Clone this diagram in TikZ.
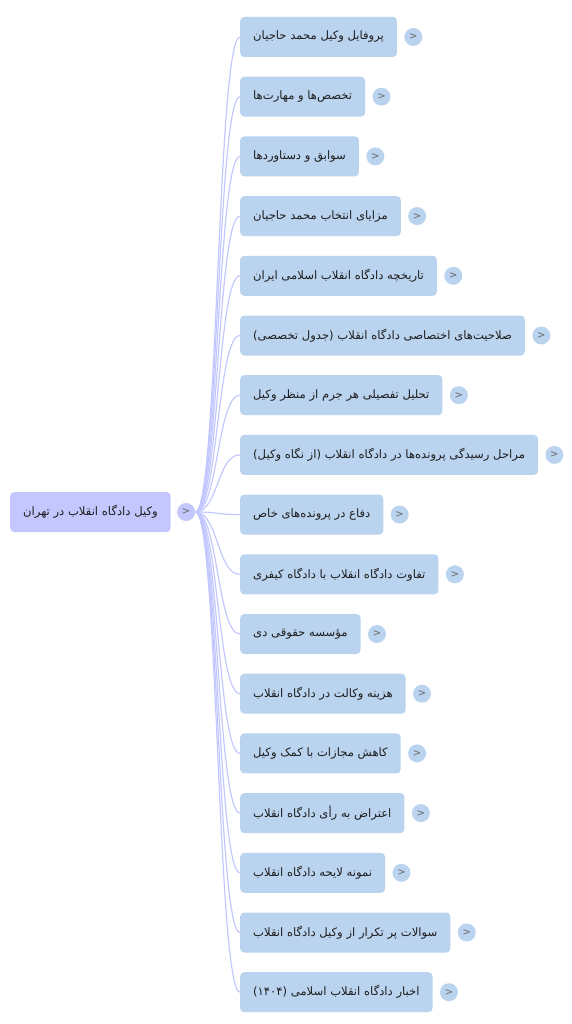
\documentclass[tikz,border=0pt]{standalone}
\usepackage{fontspec}
\usepackage{xcolor}
\usepackage{tikz}
\usetikzlibrary{positioning}
\newfontfamily\fafont[Script=Arabic]{DejaVu Sans}
\newfontfamily\togfont{DejaVu Sans}
\TeXXeTstate=1
\newcommand{\fa}[1]{\beginR #1\endR}
\definecolor{rootfill}{HTML}{C3C7FD}
\definecolor{itemfill}{HTML}{BAD3EF}
\definecolor{linkcol}{HTML}{C3C8FE}
\definecolor{txtcol}{HTML}{1E1E1E}

\begin{document}
\begin{tikzpicture}[
  node distance=19.3pt,
  item/.style={fill=itemfill, rounded corners=4pt, minimum height=40pt, inner xsep=13pt, font=\fafont\fontsize{11.6}{13}\selectfont, text=txtcol},
  rootbox/.style={item, fill=rootfill},
  tog/.style={circle, fill=itemfill, minimum size=18pt, inner sep=0pt, font=\togfont\fontsize{10}{11}\selectfont, text=black!60},
  link/.style={draw=linkcol, line width=1.2pt}
]
\useasboundingbox (0,0) rectangle (572pt,-1024pt);

\node[rootbox, anchor=west] (root) at (10pt,-512pt) {\fa{وکیل دادگاه انقلاب در تهران}};
\node[tog, fill=rootfill, right=6pt of root] (t0) {>};

\node[item, anchor=west] (c1) at (240pt,-37pt) {\fa{پروفایل وکیل محمد حاجیان}};
\node[item, below=of c1.south west, anchor=north west] (c2) {\fa{تخصص‌ها و مهارت‌ها}};
\node[item, below=of c2.south west, anchor=north west] (c3) {\fa{سوابق و دستاوردها}};
\node[item, below=of c3.south west, anchor=north west] (c4) {\fa{مزایای انتخاب محمد حاجیان}};
\node[item, below=of c4.south west, anchor=north west] (c5) {\fa{تاریخچه دادگاه انقلاب اسلامی ایران}};
\node[item, below=of c5.south west, anchor=north west] (c6) {\fa{صلاحیت‌های اختصاصی دادگاه انقلاب (جدول تخصصی)}};
\node[item, below=of c6.south west, anchor=north west] (c7) {\fa{تحلیل تفصیلی هر جرم از منظر وکیل}};
\node[item, below=of c7.south west, anchor=north west] (c8) {\fa{مراحل رسیدگی پرونده‌ها در دادگاه انقلاب (از نگاه وکیل)}};
\node[item, below=of c8.south west, anchor=north west] (c9) {\fa{دفاع در پرونده‌های خاص}};
\node[item, below=of c9.south west, anchor=north west] (c10) {\fa{تفاوت دادگاه انقلاب با دادگاه کیفری}};
\node[item, below=of c10.south west, anchor=north west] (c11) {\fa{مؤسسه حقوقی دی}};
\node[item, below=of c11.south west, anchor=north west] (c12) {\fa{هزینه وکالت در دادگاه انقلاب}};
\node[item, below=of c12.south west, anchor=north west] (c13) {\fa{کاهش مجازات با کمک وکیل}};
\node[item, below=of c13.south west, anchor=north west] (c14) {\fa{اعتراض به رأی دادگاه انقلاب}};
\node[item, below=of c14.south west, anchor=north west] (c15) {\fa{نمونه لایحه دادگاه انقلاب}};
\node[item, below=of c15.south west, anchor=north west] (c16) {\fa{سوالات پر تکرار از وکیل دادگاه انقلاب}};
\node[item, below=of c16.south west, anchor=north west] (c17) {\fa{اخبار دادگاه انقلاب اسلامی (۱۴۰۴)}};

% toggles
\node[tog, right=7pt of c1] (t1) {>};
\node[tog, right=7pt of c2] (t2) {>};
\node[tog, right=7pt of c3] (t3) {>};
\node[tog, right=7pt of c4] (t4) {>};
\node[tog, right=7pt of c5] (t5) {>};
\node[tog, right=7pt of c6] (t6) {>};
\node[tog, right=7pt of c7] (t7) {>};
\node[tog, right=7pt of c8] (t8) {>};
\node[tog, right=7pt of c9] (t9) {>};
\node[tog, right=7pt of c10] (t10) {>};
\node[tog, right=7pt of c11] (t11) {>};
\node[tog, right=7pt of c12] (t12) {>};
\node[tog, right=7pt of c13] (t13) {>};
\node[tog, right=7pt of c14] (t14) {>};
\node[tog, right=7pt of c15] (t15) {>};
\node[tog, right=7pt of c16] (t16) {>};
\node[tog, right=7pt of c17] (t17) {>};

% links
\foreach \i in {1,...,17}
  \draw[link] (t0.east) .. controls +(23pt,0) and +(-23pt,0) .. (c\i.west);
\end{tikzpicture}
\end{document}
